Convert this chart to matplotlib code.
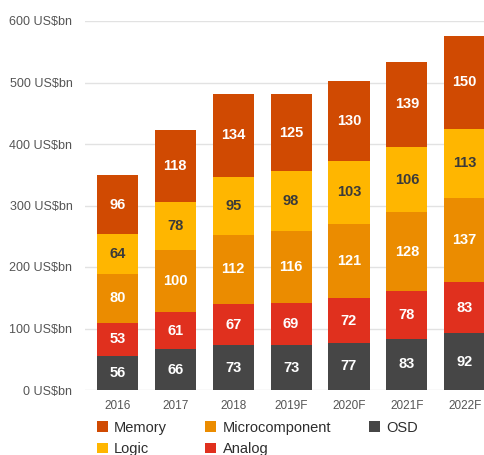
import matplotlib.pyplot as plt
import numpy as np

plt.rcParams['font.family'] = ['Liberation Sans', 'DejaVu Sans']

# Semiconductor revenue by segment, US$bn
years = ['2016', '2017', '2018', '2019F', '2020F', '2021F', '2022F']
osd = [56, 66, 73, 73, 77, 83, 92]
analog = [53, 61, 67, 69, 72, 78, 83]
microcomponent = [80, 100, 112, 116, 121, 128, 137]
logic = [64, 78, 95, 98, 103, 106, 113]
memory = [96, 118, 134, 125, 130, 139, 150]

# Stacked from the bottom up
segments = [
    ('OSD', osd, '#464646', 'white'),
    ('Analog', analog, '#E0301E', 'white'),
    ('Microcomponent', microcomponent, '#EB8C00', 'white'),
    ('Logic', logic, '#FFB600', '#3a3a3a'),
    ('Memory', memory, '#D04A02', 'white'),
]

fig = plt.figure(figsize=(4.85, 4.55), dpi=100)
ax = fig.add_axes([85 / 485, 1 - 390 / 455, 400 / 485, 369 / 455])

x = np.arange(len(years))
bottom = np.zeros(len(years))
bars = {}
for name, vals, color, txt in segments:
    vals = np.array(vals)
    bars[name] = ax.bar(x, vals, width=0.71, bottom=bottom, color=color,
                        zorder=2, label=name)
    for xi, b, v in zip(x, bottom, vals):
        ax.text(xi, b + v / 2, str(v), ha='center', va='center',
                color=txt, fontsize=10.5, fontweight='bold', zorder=3)
    bottom += vals

ax.set_xlim(-0.56, 6.35)
ax.set_ylim(0, 600)
ax.set_yticks(np.arange(0, 601, 100))
ax.set_yticklabels([f'{v} US$bn' for v in range(0, 601, 100)])
ax.set_xticks(x)
ax.set_xticklabels(years)
ax.yaxis.grid(True, color='#e2e2e2', linewidth=1, zorder=0)
ax.set_axisbelow(True)
for s in ax.spines.values():
    s.set_visible(False)
ax.tick_params(axis='y', length=0, pad=9, labelsize=9, labelcolor='#555555')
ax.tick_params(axis='x', length=0, pad=7, labelsize=8.5, labelcolor='#555555')

# Legend: Memory/Logic, Microcomponent/Analog, OSD
order = ['Memory', 'Logic', 'Microcomponent', 'Analog', 'OSD']
fig.legend([bars[n] for n in order], order, ncol=3, loc='upper left',
           bbox_to_anchor=(85 / 485, 1 - 409 / 455), frameon=False,
           fontsize=10.5, handlelength=0.75, handleheight=0.75,
           handletextpad=0.45, columnspacing=2.6, labelspacing=0.5,
           borderpad=0.3, labelcolor='#2d2d2d')

fig.savefig('out.png', dpi=100)
